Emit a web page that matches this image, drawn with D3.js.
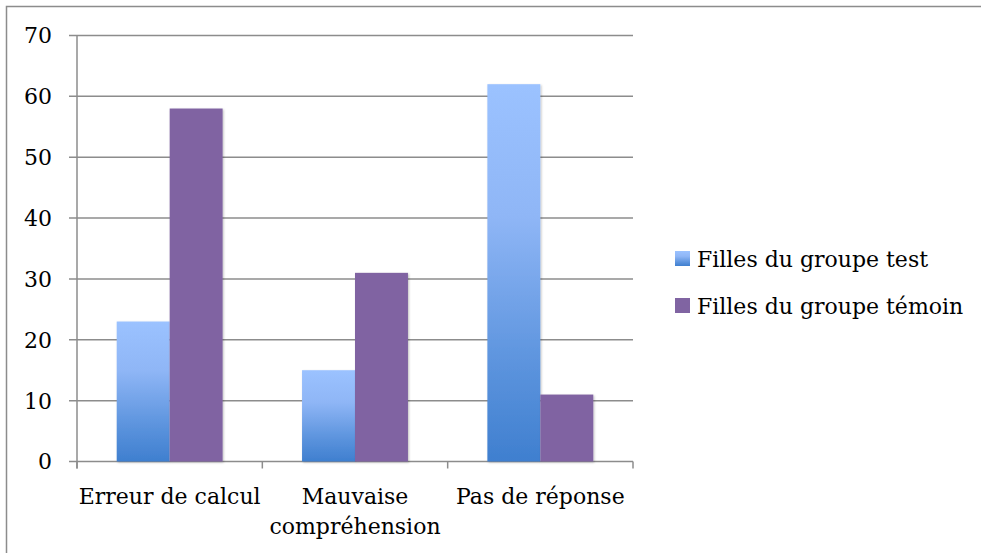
<!DOCTYPE html>
<html><head><meta charset="utf-8">
<script src="https://cdn.jsdelivr.net/npm/d3@7/dist/d3.min.js"></script>
<style>body{margin:0;background:#fff}svg{display:block}</style>
</head><body>
<svg id="chart" width="981" height="553"></svg>
<script>
const categories = [["Erreur de calcul"], ["Mauvaise", "compréhension"], ["Pas de réponse"]];
const categoryKeys = ["Erreur de calcul", "Mauvaise compréhension", "Pas de réponse"];
const seriesNames = ["Filles du groupe test", "Filles du groupe témoin"];
const testValues = [23, 15, 62];
const temoinValues = [58, 31, 11];
const yTicks = [0, 10, 20, 30, 40, 50, 60, 70];

(function () {
const svg = d3.select("#chart");
const font = "'DejaVu Serif', serif";
const fs = 22;
const defs = svg.append("defs");
const grad = defs.append("linearGradient").attr("id", "blueGrad").attr("x1", 0).attr("y1", 0).attr("x2", 0).attr("y2", 1);
grad.append("stop").attr("offset", "0%").attr("stop-color", "#9bc2ff");
grad.append("stop").attr("offset", "35%").attr("stop-color", "#8fb6f6");
grad.append("stop").attr("offset", "75%").attr("stop-color", "#5b93dd");
grad.append("stop").attr("offset", "100%").attr("stop-color", "#3f7fcf");
const f = defs.append("filter").attr("id", "shadow").attr("x", "-10%").attr("y", "-5%").attr("width", "130%").attr("height", "115%");
f.append("feDropShadow").attr("dx", 1).attr("dy", 1).attr("stdDeviation", 1.2).attr("flood-color", "#000").attr("flood-opacity", 0.25);

svg.append("rect").attr("x", 6.5).attr("y", 6.5).attr("width", 1000).attr("height", 600)
  .attr("fill", "none").attr("stroke", "#8c8c8c").attr("stroke-width", 1.5);

const pLeft = 77, pRight = 633, pTop = 35.5, pBottom = 461.5;
const x = d3.scaleBand().domain(categoryKeys).range([pLeft, pRight]).paddingInner(0).paddingOuter(0);
const xs = d3.scaleBand().domain(seriesNames).range([0, x.bandwidth()]).paddingInner(0).paddingOuter(0.75);
const y = d3.scaleLinear().domain([0, 70]).range([pBottom, pTop]);

svg.append("g").selectAll("line").data(yTicks).join("line")
  .attr("x1", pLeft - 8).attr("x2", pRight).attr("y1", d => y(d)).attr("y2", d => y(d))
  .attr("stroke", "#8c8c8c").attr("stroke-width", 1.5);

svg.append("line").attr("x1", pLeft).attr("x2", pLeft).attr("y1", pTop).attr("y2", pBottom + 7)
  .attr("stroke", "#8c8c8c").attr("stroke-width", 1.5);

const xTickPos = categoryKeys.map(k => x(k)).concat([pRight]);
svg.append("g").selectAll("line").data(xTickPos).join("line")
  .attr("x1", d => d).attr("x2", d => d).attr("y1", pBottom).attr("y2", pBottom + 7)
  .attr("stroke", "#8c8c8c").attr("stroke-width", 1.5);

svg.append("g").selectAll("text").data(yTicks).join("text")
  .attr("x", 52).attr("y", d => y(d)).attr("dy", "0.36em").attr("text-anchor", "end")
  .attr("font-family", font).attr("font-size", fs).attr("fill", "#000").text(d => d);

const colors = ["url(#blueGrad)", "#8064a2"];
const seriesData = [testValues, temoinValues];
seriesData.forEach((vals, si) => {
  svg.append("g").selectAll("rect").data(vals).join("rect")
    .attr("x", (d, i) => x(categoryKeys[i]) + xs(seriesNames[si]))
    .attr("width", xs.bandwidth())
    .attr("y", d => y(d)).attr("height", d => y(0) - y(d))
    .attr("fill", colors[si]).attr("filter", "url(#shadow)");
});

categories.forEach((lines, i) => {
  const cx = x(categoryKeys[i]) + x.bandwidth() / 2;
  const t = svg.append("text").attr("x", cx).attr("y", 504)
    .attr("text-anchor", "middle").attr("font-family", font).attr("font-size", fs).attr("fill", "#000");
  lines.forEach((l, j) => t.append("tspan").attr("x", cx).attr("dy", j ? 30 : 0).text(l));
});

const lg = svg.append("g");
seriesNames.forEach((n, i) => {
  const yy = 251 + i * 47;
  lg.append("rect").attr("x", 675).attr("y", yy).attr("width", 15).attr("height", 15).attr("fill", colors[i]);
  lg.append("text").attr("x", 697).attr("y", yy + 8).attr("dy", "0.36em")
    .attr("font-family", font).attr("font-size", fs).attr("fill", "#000").text(n);
});
})();
</script>
</body></html>
